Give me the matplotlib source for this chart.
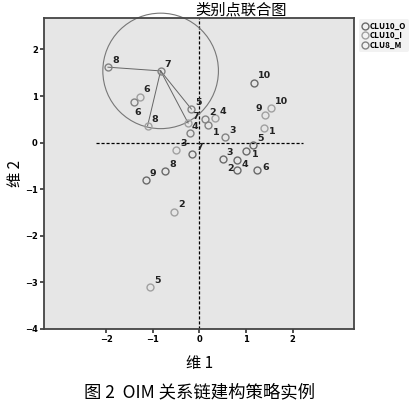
import matplotlib
matplotlib.use("Agg")
import matplotlib.pyplot as plt
from matplotlib.patches import Circle

plt.rcParams['font.family'] = ['Noto Sans CJK SC', 'DejaVu Sans']

# category points for each variable (label, dim1, dim2)
clu10_o_labels = ['1', '2', '3', '4', '5', '6', '7', '8', '9', '10']
clu10_o_x = [1.00, 0.81, 0.50, 0.81, 1.15, 1.23, -0.15, -0.73, -1.15, 1.17]
clu10_o_y = [-0.19, -0.58, -0.36, -0.37, -0.06, -0.59, -0.24, -0.62, -0.80, 1.29]

clu10_i_labels = ['1', '2', '3', '4', '5', '6', '7', '8', '9', '10']
clu10_i_x = [1.38, -0.54, -0.50, 0.34, -1.06, -1.28, -0.24, -1.11, 1.42, 1.54]
clu10_i_y = [0.31, -1.48, -0.16, 0.53, -3.10, 0.99, 0.42, 0.36, 0.60, 0.74]

clu8_m_labels = ['1', '2', '3', '4', '5', '6', '7', '8']
clu8_m_x = [0.18, 0.12, 0.56, -0.19, -0.17, -1.40, -0.83, -1.96]
clu8_m_y = [0.38, 0.50, 0.11, 0.21, 0.72, 0.87, 1.54, 1.62]

series_names = ['CLU10_O', 'CLU10_I', 'CLU8_M']
series_colors = ['#6a6a6a', '#a0a0a0', '#828282']

# the highlighted category (CLU8_M 7) and the points it is linked to
hub = (-0.83, 1.54)
link_x = [-1.96, -1.11, -0.24, -0.17]
link_y = [1.62, 0.36, 0.42, 0.72]
hub_radius = 1.24

xticks = [-2, -1, 0, 1, 2]
yticks = [2, 1, 0, -1, -2, -3, -4]

fig = plt.figure(figsize=(4.2, 4.05), dpi=100)
ax = fig.add_axes([0.105, 0.188, 0.738, 0.768])
ax.set_facecolor('#e6e6e6')

ax.axvline(0, color='black', lw=0.9, ls=(0, (2.5, 1.5)), zorder=1)
ax.plot([-2.22, 2.22], [0, 0], color='black', lw=0.9, ls=(0, (2.5, 1.5)), zorder=1)

# links and circle around the hub
for lx, ly in zip(link_x, link_y):
    ax.plot([hub[0], lx], [hub[1], ly], color='#666666', lw=0.7, zorder=2)
ax.add_patch(Circle(hub, hub_radius, fill=False, ec='#777777', lw=0.8,
                    clip_on=False, zorder=2))

all_series = [
    (clu10_o_labels, clu10_o_x, clu10_o_y),
    (clu10_i_labels, clu10_i_x, clu10_i_y),
    (clu8_m_labels, clu8_m_x, clu8_m_y),
]
# label offsets in points, default upper right
offsets = {
    (1.42, 0.60): (-7, 3),
    (0.18, 0.38): (4, -7),
    (0.81, -0.58): (-7, -1),
    (0.81, -0.37): (3, -5),
    (1.00, -0.19): (4, -4),
    (1.23, -0.59): (4, 0),
    (-1.40, 0.87): (0, -9),
    (1.38, 0.31): (4, -4),
    (-0.19, 0.21): (1, 3),
}
for (labels, xs, ys), name, col in zip(all_series, series_names, series_colors):
    ax.plot(xs, ys, 'o', ms=5, mfc='none', mec=col, mew=1.0, label=name, zorder=3)
    for lab, x, y in zip(labels, xs, ys):
        dx, dy = offsets.get((x, y), (3, 3))
        ax.annotate(lab, (x, y), xytext=(dx, dy), textcoords='offset points',
                    fontsize=6.8, fontweight='bold', color='#222222',
                    family='DejaVu Sans')

ax.set_xlim(-3.33, 3.32)
ax.set_ylim(-4, 2.68)
ax.set_xticks(xticks)
ax.set_yticks(yticks)
ax.tick_params(labelsize=6, length=3, width=1.2, color='#333333', pad=1.5)
for t in ax.get_xticklabels() + ax.get_yticklabels():
    t.set_fontweight('bold')
    t.set_family('DejaVu Sans')
for s in ax.spines.values():
    s.set_color('#444444')
    s.set_linewidth(1.3)

ax.set_xlabel('维 1', fontsize=11, labelpad=8)
ax.set_ylabel('维 2', fontsize=11, labelpad=1)

fig.text(0.574, 0.976, '类别点联合图', ha='center', va='center', fontsize=11)
fig.text(0.476, 0.032, '图 2  OIM 关系链建构策略实例', ha='center', va='center', fontsize=12.5)

leg = ax.legend(loc='upper left', bbox_to_anchor=(1.015, 0.995), fontsize=5.8,
                frameon=True, facecolor='#efefef', edgecolor='none',
                handletextpad=0.1, borderpad=0.3, labelspacing=0.05,
                handlelength=1.0, borderaxespad=0)
for t in leg.get_texts():
    t.set_fontweight('bold')

fig.savefig('out.png', dpi=100)
